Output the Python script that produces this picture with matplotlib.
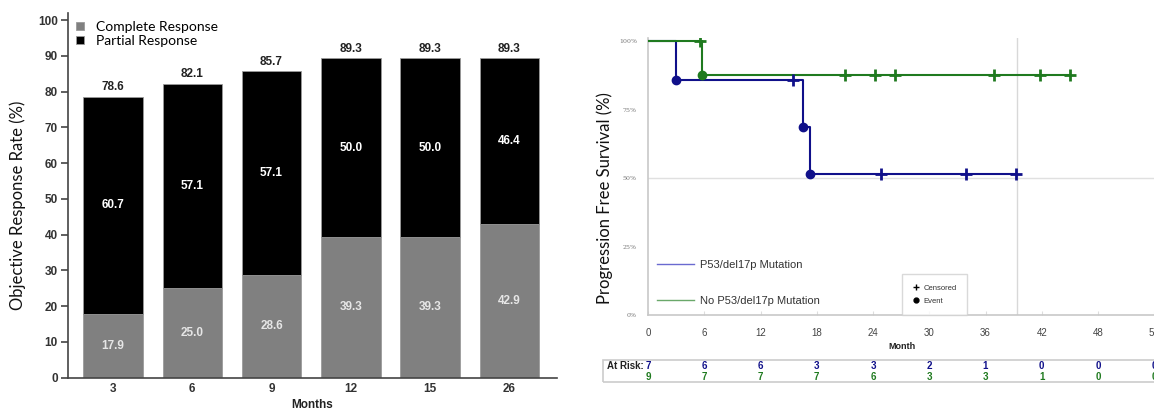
import numpy as np
import matplotlib
matplotlib.use("Agg")
import matplotlib.pyplot as plt
from matplotlib.lines import Line2D
from matplotlib.patches import Rectangle
from matplotlib.transforms import blended_transform_factory

# ---- left panel data: objective response rate ----
months = ["3", "6", "9", "12", "15", "26"]
complete = [17.9, 25.0, 28.6, 39.3, 39.3, 42.9]
partial = [60.7, 57.1, 57.1, 50.0, 50.0, 46.4]
overall = [78.6, 82.1, 85.7, 89.3, 89.3, 89.3]

# ---- right panel data: Kaplan-Meier PFS ----
p53_times = [0, 3.0, 16.5, 17.3, 39.3]
p53_surv = [100, 85.7, 68.6, 51.4, 51.4]
p53_events = [3.0, 16.5, 17.3]
p53_censor = [15.5, 24.8, 33.9, 39.3]

nop53_times = [0, 5.8, 45.0]
nop53_surv = [100, 87.5, 87.5]
nop53_events = [5.8]
nop53_censor = [5.5, 21.0, 24.2, 26.3, 36.9, 41.8, 45.0]

risk_months = [0, 6, 12, 18, 24, 30, 36, 42, 48, 54]
risk_p53 = [7, 6, 6, 3, 3, 2, 1, 0, 0, 0]
risk_nop53 = [9, 7, 7, 7, 6, 3, 3, 1, 0, 0]

W, H = 1154, 411
fig = plt.figure(figsize=(W / 100, H / 100), dpi=100)

def fy(y):
    return 1 - y / H

# ================= left: stacked bars =================
ax = fig.add_axes([67.7 / W, fy(377.5), (557 - 67.7) / W, (377.5 - 13.3) / H])
x = np.arange(len(months))
b1 = ax.bar(x, complete, width=0.75, color="#808080", edgecolor="#9a9a9a", lw=0.6,
            label="Complete Response")
b2 = ax.bar(x, partial, bottom=complete, width=0.75, color="black", edgecolor="#9a9a9a",
            lw=0.6, label="Partial Response")
ax.set_xlim(-0.571, 5.6)
ax.set_ylim(0, 101.9)
ax.set_yticks(range(0, 101, 10))
ax.set_xticks(x)
ax.set_xticklabels(months)
for s in ["top", "right"]:
    ax.spines[s].set_visible(False)
for s in ["left", "bottom"]:
    ax.spines[s].set_color("#444444")
    ax.spines[s].set_linewidth(1.2)
ax.tick_params(axis="y", length=5, width=1.2, color="#444444", pad=2)
ax.tick_params(axis="x", length=0, pad=4)
for lab in ax.get_xticklabels() + ax.get_yticklabels():
    lab.set_fontfamily("Liberation Sans")
    lab.set_fontweight("bold")
    lab.set_fontsize(8.5)
    lab.set_color("#333333")

for i in range(len(months)):
    ax.text(x[i], complete[i] / 2, f"{complete[i]:.1f}", ha="center", va="center",
            color="#e6e6e6", fontsize=8.5, fontweight="bold", family="Liberation Sans")
    ax.text(x[i], complete[i] + partial[i] / 2, f"{partial[i]:.1f}", ha="center",
            va="center", color="white", fontsize=8.5, fontweight="bold",
            family="Liberation Sans")
    ax.text(x[i], overall[i] + 1.0, f"{overall[i]:.1f}", ha="center", va="bottom",
            color="#222222", fontsize=8.5, fontweight="bold", family="Liberation Sans")

fig.text((67.7 + 557) / 2 / W, fy(405), "Months", ha="center", va="center",
         fontsize=8.5, fontweight="bold", family="Liberation Sans", color="#222222")
fig.text(18 / W, fy(205), "Objective Response Rate (%)", rotation=90, ha="center",
         va="center", fontsize=12, family="Lato", color="#111111")
ax.legend(handles=[b1, b2], loc="upper left", bbox_to_anchor=(-0.008, 1.013),
          frameon=False, handlelength=0.55, handleheight=0.55, handletextpad=0.9,
          labelspacing=0.12, prop={"family": "Lato", "size": 10})

# ================= right: Kaplan-Meier =================
navy = "#10108a"
green = "#1f7a1f"
ax2 = fig.add_axes([648 / W, fy(315), 511 / W, (315 - 38) / H])
ax2.set_xlim(0, 54.5)
ax2.set_ylim(0, 101.1)


def level(times, surv, t):
    i = np.searchsorted(times, t, side="right") - 1
    return surv[i]


for times, surv, ev, cen, col in [
    (p53_times, p53_surv, p53_events, p53_censor, navy),
    (nop53_times, nop53_surv, nop53_events, nop53_censor, green),
]:
    ax2.step(times, surv, where="post", color=col, lw=1.5, zorder=3)
    ax2.plot(ev, [level(times, surv, t) for t in ev], "o", color=col, ms=6, zorder=4)
    ax2.plot(cen, [level(times, surv, t - 1e-6) for t in cen], "+", color=col, ms=8,
             mew=2, zorder=4)

ax2.axhline(50, color="#e0e0e0", lw=1, zorder=1)
ax2.axvline(39.4, color="#d8d8d8", lw=1, zorder=1)
for s in ["top", "right"]:
    ax2.spines[s].set_visible(False)
for s in ["left", "bottom"]:
    ax2.spines[s].set_color("#c8c8c8")
    ax2.spines[s].set_linewidth(1.2)
ax2.set_yticks([0, 25, 50, 75, 100])
ax2.set_yticklabels(["0%", "25%", "50%", "75%", "100%"], fontsize=4.5,
                    family="DejaVu Serif", color="#777777")
ax2.tick_params(axis="y", length=0, pad=8)
ax2.set_xticks(risk_months)
ax2.set_xticklabels([str(m) for m in risk_months], fontsize=7, family="Liberation Sans",
                    color="#444444")
ax2.tick_params(axis="x", length=3, direction="in", color="#dddddd", pad=9)
fig.text(902 / W, fy(346.5), "Month", ha="center", va="center", fontsize=6.5,
         fontweight="bold", family="Liberation Sans", color="#222222")
fig.text(605 / W, fy(198), "Progression Free Survival (%)", rotation=90, ha="center",
         va="center", fontsize=12, family="Lato", color="#111111")

line_handles = [Line2D([], [], color="#6a6ad0", lw=1),
                Line2D([], [], color="#6aa86a", lw=1)]
leg1 = ax2.legend(line_handles, ["P53/del17p Mutation", "No P53/del17p Mutation"],
                  loc="lower left", bbox_to_anchor=(-0.002, -0.004), frameon=False,
                  handlelength=3.3, handletextpad=0.6, labelspacing=2.35,
                  prop={"family": "Liberation Sans", "size": 8})
for t in leg1.get_texts():
    t.set_color("#333333")
ax2.add_artist(leg1)
mark_handles = [Line2D([], [], ls="none", marker="+", color="black", ms=4, mew=1),
                Line2D([], [], ls="none", marker="o", color="black", ms=3.5)]
leg2 = ax2.legend(mark_handles, ["Censored", "Event"], loc="lower left",
                  bbox_to_anchor=((902 - 648) / 511, 0.0), borderaxespad=0,
                  frameon=True, fancybox=False,
                  handlelength=1, handletextpad=0.5, borderpad=1.3, labelspacing=0.8,
                  prop={"family": "Liberation Sans", "size": 5.5})
leg2.get_frame().set_edgecolor("#d0d0d0")
leg2.get_frame().set_linewidth(1)
for t in leg2.get_texts():
    t.set_color("#333333")

# at-risk table
fig.patches.append(Rectangle((602.7 / W, fy(381.7)), (1160 - 602.7) / W, 21.7 / H,
                             transform=fig.transFigure, fill=False, edgecolor="#cccccc",
                             lw=1.2))
fig.text(607 / W, fy(366), "At Risk:", ha="left", va="center", fontsize=7,
         fontweight="bold", family="Liberation Sans", color="#222222")
tr = blended_transform_factory(ax2.transData, fig.transFigure)
for m, a, b in zip(risk_months, risk_p53, risk_nop53):
    ax2.text(m, fy(366), str(a), transform=tr, ha="center", va="center", fontsize=7,
             fontweight="bold", family="Liberation Sans", color=navy, clip_on=False)
    ax2.text(m, fy(377), str(b), transform=tr, ha="center", va="center", fontsize=7,
             fontweight="bold", family="Liberation Sans", color=green, clip_on=False)

fig.savefig("out.png", dpi=100)
